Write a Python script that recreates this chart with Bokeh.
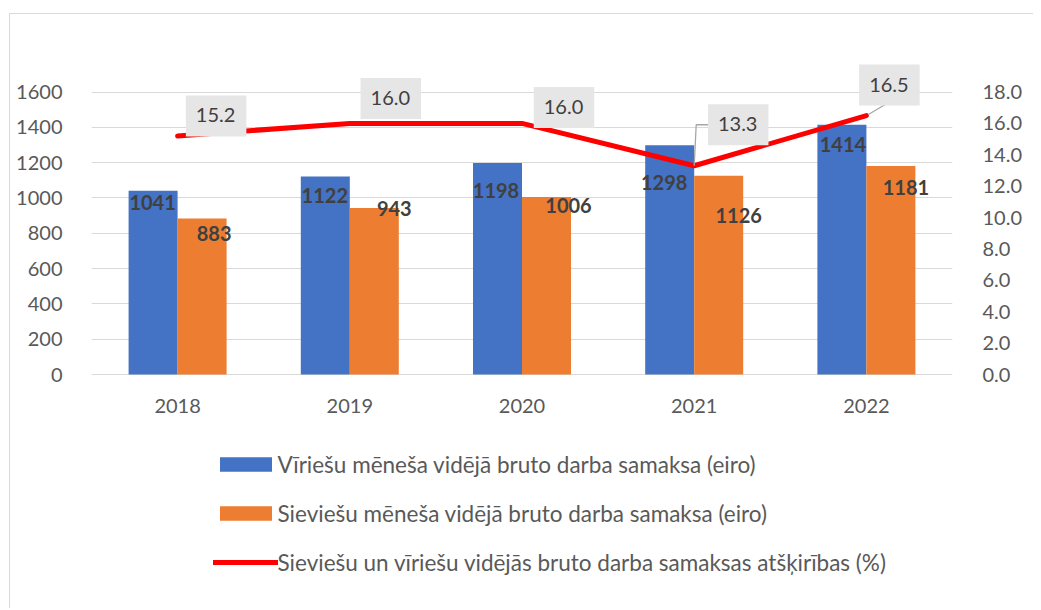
from bokeh.plotting import figure
from bokeh.models import (FactorRange, Range1d, LinearAxis, FixedTicker, ColumnDataSource,
                          Legend, LegendItem, NumeralTickFormatter)
from bokeh.transform import dodge
from bokeh.core.properties import value
from bokeh.embed import file_html
from bokeh.resources import INLINE

# ---- data ----
years = ["2018", "2019", "2020", "2021", "2022"]
men = [1041, 1122, 1198, 1298, 1414]
women = [883, 943, 1006, 1126, 1181]
gap = [15.2, 16.0, 16.0, 13.3, 16.5]
left_ticks = [0, 200, 400, 600, 800, 1000, 1200, 1400, 1600]
right_ticks = [0, 2, 4, 6, 8, 10, 12, 14, 16, 18]
men_name = "Vīriešu mēneša vidējā bruto darba samaksa (eiro)"
women_name = "Sieviešu mēneša vidējā bruto darba samaksa (eiro)"
gap_name = "Sieviešu un vīriešu vidējās bruto darba samaksas atšķirības (%)"

# ---- label placement (screen pixels) ----
men_lbl_dx = [-0.5, -0.5, -1.5, -5.5, 1]
men_lbl_dy = [12, 19, 28, 37, 20]
women_lbl_dx = [12, 20, 22, 20, 15]
women_lbl_dy = [15, 0, 9, 40, 22]
gap_lbl_dx = [38.5, 41, 42, 44, 23]
gap_lbl_dy = [-20, -25, -16, -41, -30.5]

# ---- layout constants ----
FRAME_W = 861
PLOT_H = 318            # px from the 0 line up to the top of the frame
BELOW_H = 226           # px of frame below the 0 line (holds year labels + legend)
FRAME_H = PLOT_H + BELOW_H
PX_PER_1600 = 282.5
Y_END = 1600 * PLOT_H / PX_PER_1600
Y_START = -1600 * BELOW_H / PX_PER_1600
PCT_END = 18 * PLOT_H / PX_PER_1600
PCT_START = -18 * BELOW_H / PX_PER_1600
CAT_PX = FRAME_W / len(years)
BAR_W = 49 / CAT_PX
FONT = "Lato"
TICK_COLOR = "#595959"
LBL_COLOR = "#404040"

src = ColumnDataSource(dict(
    year=years, men=men, women=women, gap=gap,
    men_txt=[str(v) for v in men], women_txt=[str(v) for v in women],
    gap_txt=[f"{v:.1f}" for v in gap],
    mdx=men_lbl_dx, mdy=men_lbl_dy, wdx=women_lbl_dx, wdy=women_lbl_dy,
    gdx=gap_lbl_dx, gdy=gap_lbl_dy,
))

p = figure(x_range=FactorRange(factors=years, range_padding=0),
           y_range=Range1d(Y_START, Y_END),
           frame_width=FRAME_W, frame_height=FRAME_H,
           min_border_left=81, min_border_right=81,
           min_border_top=42, min_border_bottom=8,
           output_backend="svg", toolbar_location=None,
           outline_line_color=None, background_fill_color="white",
           border_fill_color="white")
p.styles = {"margin-top": "13px", "margin-left": "9px",
            "border-top": "1px solid #D9D9D9", "border-left": "1px solid #D9D9D9"}

p.extra_y_ranges = {"pct": Range1d(PCT_START, PCT_END)}

# axes
p.yaxis.ticker = FixedTicker(ticks=left_ticks)
p.yaxis.axis_line_color = None
p.yaxis.major_tick_line_color = None
p.yaxis.minor_tick_line_color = None
p.yaxis.major_label_standoff = 23
p.yaxis.major_label_text_font = FONT
p.yaxis.major_label_text_font_size = "20px"
p.yaxis.major_label_text_color = TICK_COLOR

ax_r = LinearAxis(y_range_name="pct", ticker=FixedTicker(ticks=right_ticks),
                  formatter=NumeralTickFormatter(format="0.0"))
ax_r.axis_line_color = None
ax_r.major_tick_line_color = None
ax_r.minor_tick_line_color = None
ax_r.major_label_standoff = 24
ax_r.major_label_text_font = FONT
ax_r.major_label_text_font_size = "20px"
ax_r.major_label_text_color = TICK_COLOR
p.add_layout(ax_r, "right")

p.xaxis.visible = False
p.xgrid.grid_line_color = None
p.ygrid.ticker = FixedTicker(ticks=left_ticks)
p.ygrid.grid_line_color = "#D9D9D9"
p.ygrid.grid_line_width = 1

# category (year) labels under the 0 line
p.text(x="year", y=0, text="year", source=src, y_offset=31,
       text_align="center", text_baseline="middle",
       text_font=value(FONT), text_font_size="20px", text_color=TICK_COLOR)

# bars
r_men = p.vbar(x=dodge("year", -BAR_W / 2, range=p.x_range), top="men", width=BAR_W,
               source=src, fill_color="#4472C4", line_color=None)
r_women = p.vbar(x=dodge("year", BAR_W / 2, range=p.x_range), top="women", width=BAR_W,
                 source=src, fill_color="#ED7D31", line_color=None)

# bar labels
p.text(x=dodge("year", -BAR_W / 2, range=p.x_range), y="men", text="men_txt",
       x_offset="mdx", y_offset="mdy", source=src,
       text_align="center", text_baseline="middle",
       text_font=value(FONT), text_font_style="bold", text_font_size="20px",
       text_color=LBL_COLOR)
p.text(x=dodge("year", BAR_W / 2, range=p.x_range), y="women", text="women_txt",
       x_offset="wdx", y_offset="wdy", source=src,
       text_align="center", text_baseline="middle",
       text_font=value(FONT), text_font_style="bold", text_font_size="20px",
       text_color=LBL_COLOR)

# line
r_gap = p.line(x="year", y="gap", y_range_name="pct", source=src,
               line_color="#FF0000", line_width=5, line_cap="round", line_join="round")

# leader lines for labels placed away from their points (13.3 and 16.5)
PCT_PER_PX = (PCT_END - PCT_START) / FRAME_H
for i in (3, 4):
    box_left = gap_lbl_dx[i] - 29.5
    box_bottom = gap_lbl_dy[i] + 18.5
    if i == 3:
        pts = [(0, 0), (2, gap_lbl_dy[i]), (box_left, gap_lbl_dy[i])]
    else:
        pts = [(2, -1), (gap_lbl_dx[i] - 2.5, box_bottom)]
    p.line(x=[(years[i], dx / CAT_PX) for dx, dy in pts],
           y=[gap[i] - dy * PCT_PER_PX for dx, dy in pts], y_range_name="pct",
           line_color="#A6A6A6", line_width=1.3)

# line labels with grey boxes
p.text(x="year", y="gap", text="gap_txt", y_range_name="pct", source=src,
       x_offset="gdx", y_offset="gdy",
       text_align="center", text_baseline="middle",
       text_font=value(FONT), text_font_size="20px", text_color=LBL_COLOR,
       background_fill_color="#E7E6E6",
       padding=dict(left=10, right=11, top=13, bottom=14))

legend = Legend(items=[LegendItem(label=men_name, renderers=[r_men]),
                       LegendItem(label=women_name, renderers=[r_women]),
                       LegendItem(label=gap_name, renderers=[r_gap])],
                location=(121.5, 24.5), orientation="vertical",
                glyph_width=65, glyph_height=18, label_standoff=0, spacing=22,
                padding=0, margin=0, border_line_color=None, background_fill_alpha=0,
                label_text_font=FONT, label_text_font_size="22.5px",
                label_text_color=TICK_COLOR, label_height=25)
p.add_layout(legend, "center")

open("out.html", "w").write(file_html(p, INLINE))
